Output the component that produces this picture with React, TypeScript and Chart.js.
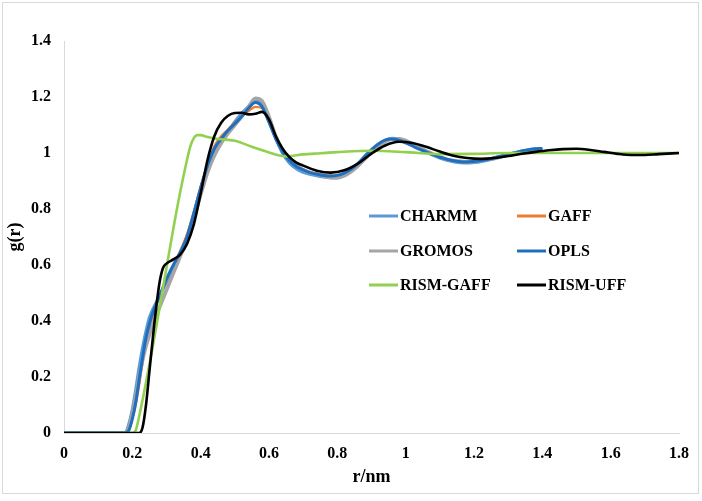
import React, { useEffect, useRef } from "react";
import { Chart, registerables } from "chart.js";

Chart.register(...registerables);

// r (nm) grid shared by the four MD force fields
const rMD = [
  0, 0.18, 0.19, 0.2, 0.21, 0.22, 0.23, 0.24, 0.25, 0.26,
  0.27, 0.28, 0.29, 0.3, 0.32, 0.34, 0.36, 0.38, 0.4, 0.42,
  0.44, 0.46, 0.48, 0.5, 0.52, 0.54, 0.56, 0.58, 0.6, 0.62,
  0.64, 0.66, 0.68, 0.7, 0.72, 0.74, 0.76, 0.78, 0.8, 0.82,
  0.84, 0.86, 0.88, 0.9, 0.92, 0.94, 0.96, 0.98, 1.0, 1.02,
  1.04, 1.06, 1.08, 1.1, 1.12, 1.14, 1.16, 1.18, 1.2, 1.22,
  1.24, 1.26, 1.28, 1.3, 1.32, 1.34, 1.36, 1.38, 1.4,
];

const charmm = [
  0, 0, 0.03, 0.08, 0.15, 0.23, 0.3, 0.36, 0.41, 0.44,
  0.465, 0.49, 0.515, 0.54, 0.59, 0.64, 0.7, 0.78, 0.87, 0.95,
  1.01, 1.045, 1.075, 1.11, 1.14, 1.165, 1.185, 1.17, 1.115, 1.055,
  1.0, 0.965, 0.945, 0.932, 0.925, 0.92, 0.915, 0.913, 0.915, 0.925,
  0.94, 0.96, 0.985, 1.01, 1.03, 1.045, 1.052, 1.05, 1.04, 1.028,
  1.016, 1.005, 0.993, 0.983, 0.975, 0.97, 0.966, 0.965, 0.967, 0.97,
  0.975, 0.98, 0.987, 0.994, 1.0, 1.006, 1.01, 1.013, 1.012,
];

const gaff = [
  0, 0, 0.01, 0.05, 0.1, 0.17, 0.25, 0.32, 0.38, 0.42,
  0.455, 0.485, 0.515, 0.545, 0.6, 0.65, 0.71, 0.79, 0.88, 0.96,
  1.025, 1.06, 1.085, 1.11, 1.13, 1.15, 1.165, 1.16, 1.11, 1.05,
  1.005, 0.975, 0.955, 0.942, 0.933, 0.927, 0.922, 0.92, 0.921, 0.928,
  0.942, 0.962, 0.986, 1.01, 1.03, 1.043, 1.048, 1.045, 1.036, 1.025,
  1.014, 1.003, 0.993, 0.984, 0.977, 0.972, 0.97, 0.969, 0.971, 0.974,
  0.978, 0.984, 0.99, 0.996, 1.001, 1.006, 1.01, 1.013, 1.014,
];

const gromos = [
  0, 0, 0.02, 0.07, 0.13, 0.2, 0.26, 0.31, 0.35, 0.39,
  0.42, 0.45, 0.48, 0.51, 0.57, 0.63, 0.69, 0.765, 0.85, 0.93,
  0.99, 1.035, 1.07, 1.1, 1.13, 1.165, 1.195, 1.185, 1.13, 1.06,
  1.01, 0.975, 0.955, 0.94, 0.93, 0.924, 0.918, 0.912, 0.911, 0.918,
  0.933, 0.953, 0.978, 1.003, 1.025, 1.04, 1.05, 1.051, 1.045, 1.032,
  1.02, 1.008, 0.996, 0.986, 0.978, 0.973, 0.97, 0.969, 0.97, 0.973,
  0.977, 0.982, 0.988, 0.995, 1.0, 1.005, 1.009, 1.012, 1.013,
];

const opls = [
  0, 0, 0.01, 0.05, 0.11, 0.19, 0.27, 0.34, 0.39, 0.43,
  0.46, 0.49, 0.52, 0.55, 0.6, 0.645, 0.7, 0.785, 0.875, 0.955,
  1.015, 1.05, 1.08, 1.105, 1.13, 1.16, 1.18, 1.165, 1.11, 1.05,
  1.005, 0.972, 0.952, 0.94, 0.93, 0.924, 0.92, 0.918, 0.92, 0.928,
  0.942, 0.962, 0.988, 1.012, 1.032, 1.046, 1.05, 1.046, 1.036, 1.025,
  1.014, 1.004, 0.994, 0.985, 0.978, 0.972, 0.969, 0.968, 0.97, 0.973,
  0.977, 0.983, 0.989, 0.995, 1.001, 1.007, 1.012, 1.015, 1.016,
];

const rRismGaff = [
  0, 0.2, 0.21, 0.22, 0.24, 0.26, 0.28, 0.3, 0.32, 0.34,
  0.36, 0.37, 0.38, 0.39, 0.4, 0.42, 0.45, 0.5, 0.55, 0.6,
  0.65, 0.7, 0.75, 0.8, 0.9, 1.0, 1.1, 1.2, 1.3, 1.4,
  1.5, 1.6, 1.7, 1.8,
];
const rismGaff = [
  0, 0, 0.01, 0.06, 0.18, 0.31, 0.45, 0.59, 0.73, 0.86,
  0.975, 1.025, 1.053, 1.064, 1.064, 1.057, 1.05, 1.044, 1.022, 1.002,
  0.988, 0.995, 0.999, 1.003, 1.008, 1.003, 0.996, 0.997, 1.0, 1.0,
  1.0, 1.0, 1.0, 1.0,
];

const rRismUff = [
  0, 0.22, 0.23, 0.24, 0.25, 0.26, 0.27, 0.28, 0.29, 0.3,
  0.32, 0.34, 0.36, 0.38, 0.4, 0.42, 0.44, 0.46, 0.48, 0.5,
  0.52, 0.54, 0.56, 0.58, 0.6, 0.62, 0.64, 0.66, 0.68, 0.7,
  0.74, 0.78, 0.82, 0.86, 0.9, 0.94, 0.98, 1.02, 1.06, 1.1,
  1.14, 1.18, 1.22, 1.26, 1.3, 1.34, 1.38, 1.42, 1.46, 1.5,
  1.54, 1.58, 1.62, 1.66, 1.7, 1.74, 1.8,
];
const rismUff = [
  0, 0, 0.02, 0.1, 0.22, 0.34, 0.45, 0.54, 0.59, 0.605,
  0.62, 0.637, 0.675, 0.745, 0.855, 0.975, 1.06, 1.108, 1.133, 1.143,
  1.144, 1.138, 1.14, 1.147, 1.12, 1.06, 1.015, 0.985, 0.966, 0.955,
  0.937, 0.93, 0.938, 0.962, 0.998, 1.027, 1.04, 1.036, 1.022, 1.005,
  0.99, 0.982, 0.979, 0.982, 0.989, 0.997, 1.004, 1.01, 1.014, 1.015,
  1.011, 1.004, 0.997, 0.993, 0.993, 0.996, 1.0,
];

const seriesNames = ["CHARMM", "GAFF", "GROMOS", "OPLS", "RISM-GAFF", "RISM-UFF"];
const seriesColors = ["#5B9BD5", "#ED7D31", "#A5A5A5", "#1F6FC0", "#92D050", "#000000"];
const seriesWidths = [3.6, 2.2, 3.6, 3, 2.6, 2.6];
const seriesR = [rMD, rMD, rMD, rMD, rRismGaff, rRismUff];
const seriesG = [charmm, gaff, gromos, opls, rismGaff, rismUff];

const xTitle = "r/nm";
const yTitle = "g(r)";

const FONT = "'Liberation Serif', 'Times New Roman', serif";

const frameAndLegend = {
  id: "frameAndLegend",
  beforeDraw(chart: any) {
    const ctx = chart.ctx;
    ctx.save();
    ctx.fillStyle = "#ffffff";
    ctx.fillRect(0, 0, chart.width, chart.height);
    ctx.strokeStyle = "#d9d9d9";
    ctx.lineWidth = 1;
    ctx.strokeRect(2.5, 2.5, 696, 491);
    ctx.restore();
  },
  afterDatasetsDraw(chart: any) {
    const ctx = chart.ctx;
    const colX = [369, 517];
    const rowY = [216, 251, 285];
    ctx.save();
    ctx.font = `bold 16px ${FONT}`;
    ctx.textBaseline = "middle";
    ctx.textAlign = "left";
    chart.data.datasets.forEach((ds: any, i: number) => {
      const cx = colX[i % 2];
      const cy = rowY[Math.floor(i / 2)];
      ctx.strokeStyle = ds.borderColor;
      ctx.lineWidth = 3;
      ctx.beginPath();
      ctx.moveTo(cx, cy);
      ctx.lineTo(cx + 29, cy);
      ctx.stroke();
      ctx.fillStyle = "#000000";
      ctx.fillText(ds.label, cx + 31, cy + 1);
    });
    ctx.restore();
  },
};

const fmt = (v: any) => String(Number(Number(v).toFixed(1)));

export default function App() {
  const ref = useRef<HTMLCanvasElement | null>(null);
  useEffect(() => {
    if (!ref.current) return;
    const datasets = seriesNames.map((name, i) => ({
      label: name,
      data: seriesR[i].map((r, k) => ({ x: r, y: seriesG[i][k] })),
      borderColor: seriesColors[i],
      backgroundColor: seriesColors[i],
      borderWidth: seriesWidths[i],
      pointRadius: 0,
      cubicInterpolationMode: "monotone" as const,
      fill: false,
      order: seriesNames.length - i,
    }));
    const chart = new Chart(ref.current, {
      type: "line",
      data: { datasets },
      plugins: [frameAndLegend],
      options: {
        animation: false,
        responsive: false,
        maintainAspectRatio: false,
        layout: { padding: { left: 0, right: 23, top: 41, bottom: 0 } },
        plugins: { legend: { display: false }, tooltip: { enabled: false } },
        scales: {
          x: {
            type: "linear",
            min: 0,
            max: 1.8,
            grid: { display: false, drawTicks: false },
            border: { display: true, color: "#d9d9d9", width: 1 },
            ticks: {
              stepSize: 0.2,
              padding: 11,
              color: "#000",
              font: { family: FONT, size: 16, weight: "bold" },
              callback: (v: any) => fmt(v),
              maxRotation: 0,
            },
            title: {
              display: true,
              text: xTitle,
              color: "#000",
              font: { family: FONT, size: 18, weight: "bold" },
              padding: { top: 0, bottom: 13 },
            },
            afterFit: (s: any) => {
              s.height = 68;
            },
          },
          y: {
            type: "linear",
            min: 0,
            max: 1.4,
            grid: { display: false, drawTicks: false },
            border: { display: true, color: "#d9d9d9", width: 1 },
            ticks: {
              stepSize: 0.2,
              padding: 13,
              color: "#000",
              font: { family: FONT, size: 16, weight: "bold" },
              callback: (v: any) => fmt(v),
            },
            title: {
              display: true,
              text: yTitle,
              color: "#000",
              font: { family: FONT, size: 18, weight: "bold" },
              padding: { top: 5, bottom: 0 },
            },
            afterFit: (s: any) => {
              s.width = 64;
            },
          },
        },
      },
    });
    return () => chart.destroy();
  }, []);
  return (
    <div style={{ position: "absolute", left: 0, top: 0, width: 702, height: 501, background: "#fff" }}>
      <canvas ref={ref} width={702} height={501} style={{ width: 702, height: 501, display: "block" }} />
    </div>
  );
}
